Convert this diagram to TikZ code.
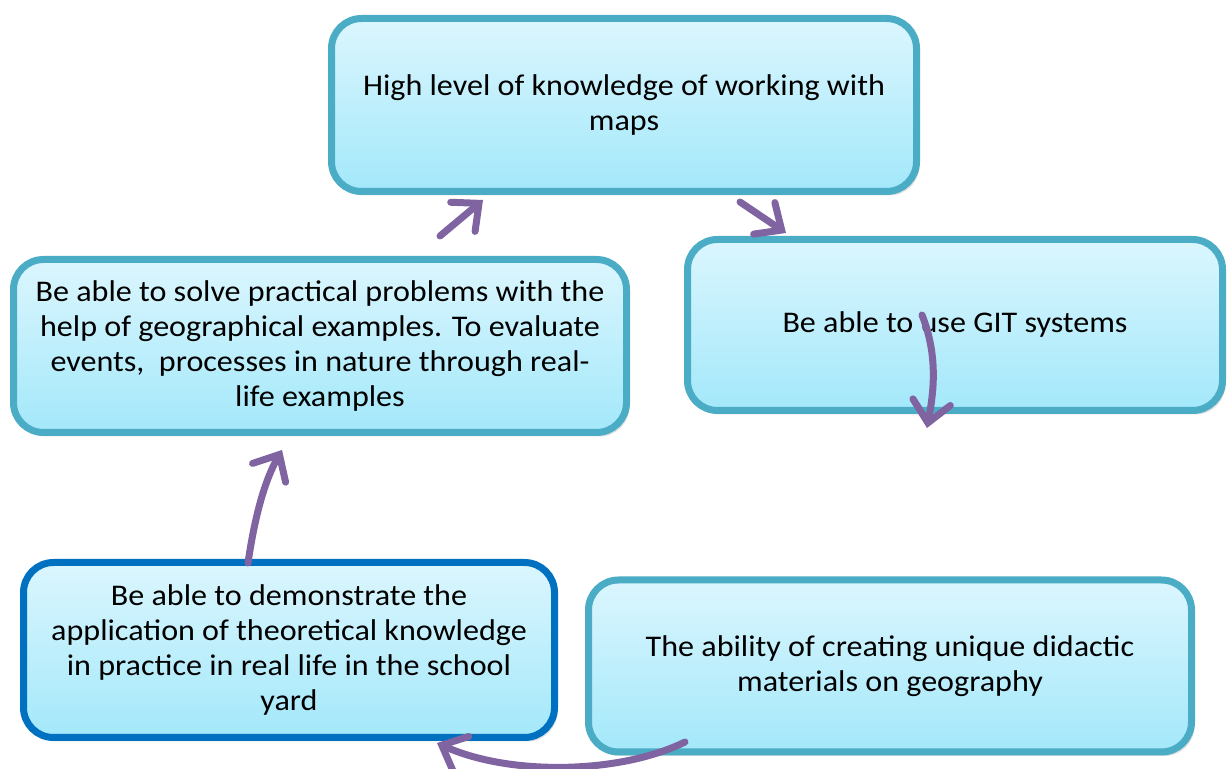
\documentclass[tikz,border=0pt]{standalone}
\usepackage{fontspec}
\setmainfont[FakeStretch=1.07]{Carlito}
\usepackage{tikz}
\usetikzlibrary{arrows.meta}
\usetikzlibrary{shadows}

\definecolor{rimteal}{HTML}{4BACC6}
\definecolor{rimblue}{HTML}{0070C0}
\definecolor{boxtop}{HTML}{DBF6FE}
\definecolor{boxbot}{HTML}{A3E8FA}
\definecolor{loopviolet}{HTML}{8064A2}

\begin{document}
\begin{tikzpicture}[x=0.5pt, y=-0.5pt,
        skill/.style={rectangle, rounded corners=15pt, draw=rimteal, line width=3.5pt, top color=boxtop, bottom color=boxbot, align=center, font=\fontsize{15}{17.5}\selectfont, drop shadow={opacity=0.25, shadow xshift=1.5pt, shadow yshift=-2pt}},
        turn/.style={-{Straight Barb[length=10.5pt, width=19pt, line cap=round]}, line width=3.5pt, line cap=round, loopviolet},
    ]
    \useasboundingbox (0,0) rectangle (1227,769);
    \node[skill, minimum width=292.5pt, minimum height=86.5pt] (maps) at (624,105) {High level of knowledge of working with\\maps};
    \node[skill, minimum width=267.5pt, minimum height=85.5pt] (git) at (955,325) {Be able to use GIT systems};
    \node[skill, minimum width=306.5pt, minimum height=86.5pt] (solve) at (320,346) {Be able to solve practical problems with the\\help of geographical examples. To evaluate\\events,~ processes in nature through real-\\life examples};
    \node[skill, draw=rimblue, minimum width=265.5pt, minimum height=87.5pt] (yard) at (289,650) {Be able to demonstrate the\\application of theoretical knowledge\\in practice in real life in the school\\yard};
    \node[skill, minimum width=301.5pt, minimum height=86pt] (didactic) at (890,666) {The ability of creating unique didactic\\materials on geography};
    % arrow ends between the boxes
    \coordinate (s1) at (440,236); \coordinate (e1) at (483,200);
    \coordinate (s2) at (740,202); \coordinate (e2) at (786,233);
    \coordinate (s3) at (922,315); \coordinate (e3) at (927,428);
    \coordinate (s4) at (685,742); \coordinate (e4) at (437,743);
    \coordinate (s5) at (248,563); \coordinate (e5) at (282,450);
    \draw[turn] (s1) -- (e1);
    \draw[turn] (s2) -- (e2);
    \draw[turn] (s3) .. controls (940,360) and (932,400) .. (e3);
    \draw[turn] (s4) .. controls (620,774) and (510,776) .. (e4);
    \draw[turn] (s5) .. controls (255,515) and (265,480) .. (e5);
\end{tikzpicture}
\end{document}
